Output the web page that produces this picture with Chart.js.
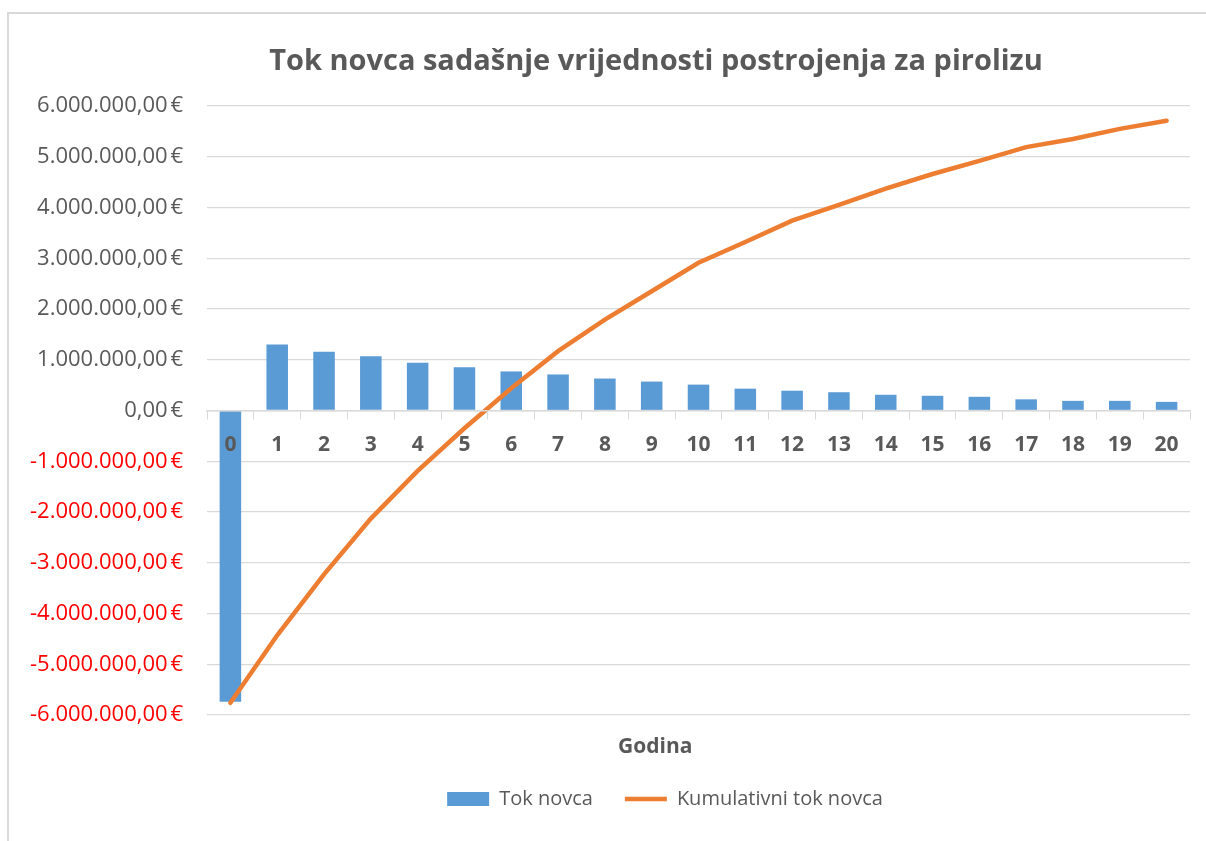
<!DOCTYPE html>
<html>
<head>
<meta charset="utf-8">
<script src="https://cdn.jsdelivr.net/npm/chart.js@4/dist/chart.umd.min.js"></script>
<style>
  html, body { margin: 0; padding: 0; background: #fff; }
  .frame {
    position: absolute; left: 7px; top: 12px; width: 1210px; height: 840px;
    border-left: 2px solid #d9d9d9; border-top: 2px solid #d9d9d9;
  }
  .wrap { position: absolute; left: 0; top: 0; width: 1206px; height: 841px; }
</style>
</head>
<body>
<div class="frame"></div>
<div class="wrap"><canvas id="myChart"></canvas></div>
<script>
// Godina (years)
const years = ["0", "1", "2", "3", "4", "5", "6", "7", "8", "9", "10",
  "11", "12", "13", "14", "15", "16", "17", "18", "19", "20"];

// Tok novca - yearly cash flow (EUR)
const cashFlow = [-5740000, 1300000, 1160000, 1070000, 940000, 850000, 770000,
  710000, 630000, 570000, 510000, 430000, 390000, 360000, 310000, 290000,
  270000, 220000, 190000, 190000, 170000];

// Kumulativni tok novca - cumulative (EUR)
const cumulative = [-5760000, -4430000, -3230000, -2130000, -1190000, -350000,
  440000, 1170000, 1790000, 2350000, 2910000, 3320000, 3740000, 4050000,
  4370000, 4660000, 4920000, 5190000, 5350000, 5550000, 5710000];

const yMin = -6000000;
const yMax = 6000000;
const yStep = 1000000;

// where the "Godina" title sits along the bottom (0..1 of the plot width)
const axisTitlePos = 0.456;

const grey = "#595959";

function euro(v) {
  const neg = v < 0;
  const s = Math.abs(Math.round(v)).toString().replace(/\B(?=(\d{3})+(?!\d))/g, ".");
  return (neg ? "-" : "") + s + ",00\u202F€";
}

// Excel centres title and legend a bit right of the canvas middle
const shiftBoxes = {
  id: "shiftBoxes",
  afterLayout(chart) {
    if (chart.titleBlock) { chart.titleBlock.left += 61; chart.titleBlock.right += 61; }
    if (chart.legend) { chart.legend.left += 70; chart.legend.right += 70; }
  },
};

const canvas = document.getElementById("myChart");
new Chart(canvas, {
  data: {
    labels: years,
    datasets: [
      {
        type: "bar",
        label: "Tok novca",
        data: cashFlow,
        backgroundColor: "#5B9BD5",
        borderWidth: 0,
        barPercentage: 0.46,
        categoryPercentage: 1,
        pointStyle: "rect",
        order: 2,
      },
      {
        type: "line",
        label: "Kumulativni tok novca",
        data: cumulative,
        borderColor: "#ED7D31",
        backgroundColor: "#ED7D31",
        borderWidth: 4.5,
        pointRadius: 0,
        tension: 0,
        borderCapStyle: "round",
        pointStyle: "line",
        order: 1,
      },
    ],
  },
  plugins: [shiftBoxes],
  options: {
    responsive: true,
    maintainAspectRatio: false,
    animation: false,
    layout: { padding: { top: 13, right: 16, bottom: 22, left: 0 } },
    plugins: {
      tooltip: { enabled: false },
      title: {
        display: true,
        text: "Tok novca sadašnje vrijednosti postrojenja za pirolizu",
        color: grey,
        font: { family: "Open Sans", size: 29, weight: "bold" },
        padding: { top: 31.6, bottom: 26.6 },
      },
      legend: {
        position: "bottom",
        labels: {
          usePointStyle: true,
          pointStyleWidth: 42,
          boxHeight: 14,
          padding: 32,
          color: grey,
          font: { family: "Open Sans", size: 20 },
          sort: (a, b) => a.datasetIndex - b.datasetIndex,
        },
      },
    },
    scales: {
      x: {
        type: "category",
        position: { y: 0 },
        offset: true,
        grid: {
          offset: true,
          drawOnChartArea: false,
          drawTicks: true,
          tickLength: 8,
          color: "#d9d9d9",
        },
        border: { color: "#d9d9d9", width: 1.5, z: 1 },
        ticks: {
          z: 1,
          color: grey,
          padding: 14,
          font: { family: "Open Sans", size: 21, weight: "bold" },
          maxRotation: 0,
          autoSkip: false,
        },
      },
      xTitle: {
        type: "linear",
        position: "bottom",
        min: 0,
        max: 1,
        grid: { display: false, drawTicks: false },
        border: { display: false },
        afterBuildTicks: (scale) => { scale.ticks = [{ value: axisTitlePos }]; },
        afterFit: (scale) => { scale.height = 42; },
        ticks: {
          autoSkip: false,
          padding: 19,
          color: grey,
          font: { family: "Open Sans", size: 21, weight: "bold" },
          callback: () => "Godina",
        },
      },
      y: {
        min: yMin,
        max: yMax,
        afterFit: (scale) => { scale.width = 207; },
        grid: { color: "#d9d9d9", drawTicks: false, lineWidth: 1.3 },
        border: { display: false },
        ticks: {
          stepSize: yStep,
          padding: 24,
          font: { family: "Open Sans", size: 22 },
          color: (ctx) => (ctx.tick && ctx.tick.value < 0 ? "#FF0000" : grey),
          callback: (v) => euro(v),
        },
      },
    },
  },
});
</script>
</body>
</html>
